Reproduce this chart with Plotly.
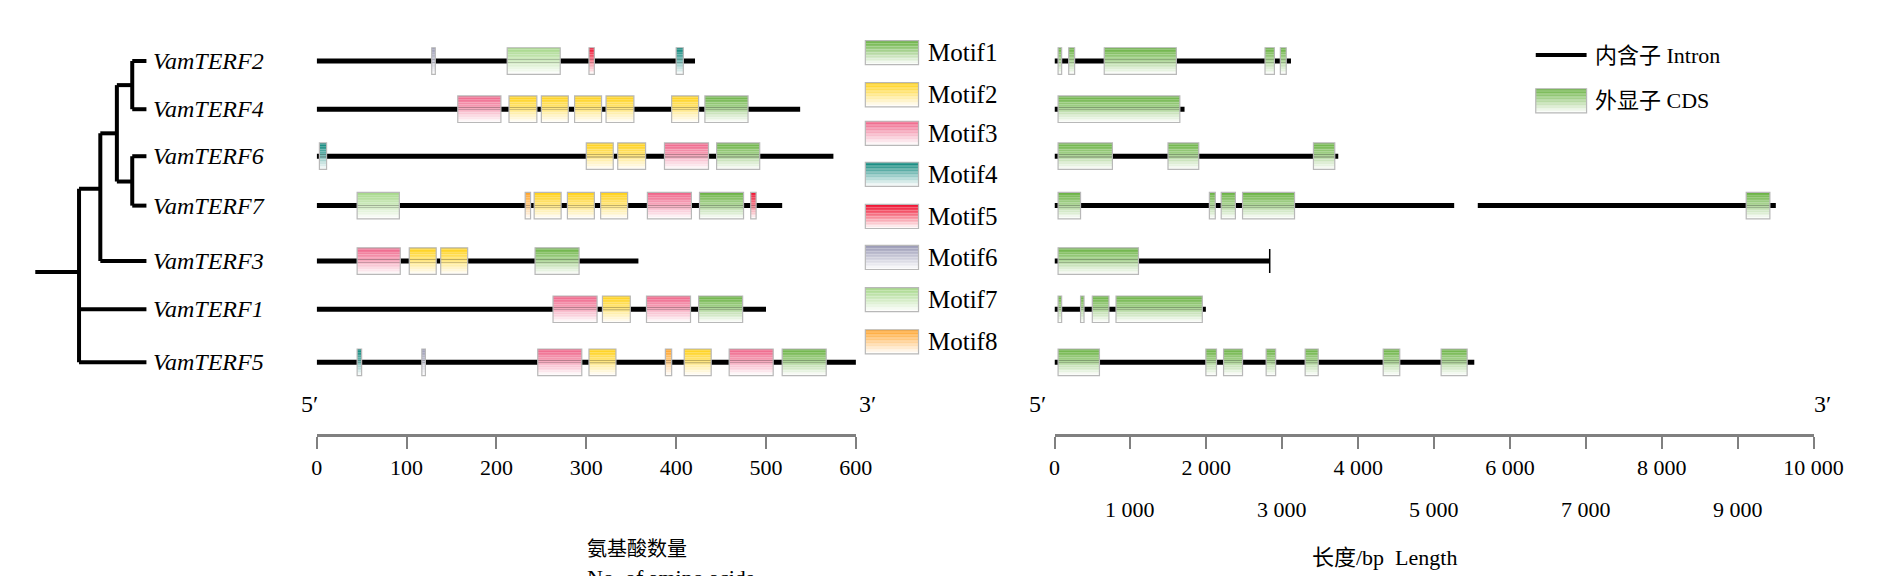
import plotly.graph_objects as go

# gene names, top to bottom
genes = ['VamTERF2', 'VamTERF4', 'VamTERF6', 'VamTERF7', 'VamTERF3', 'VamTERF1', 'VamTERF5']
row_y = [37, 77, 116, 157, 203, 243, 287]

# protein lengths (aa) and motifs (motif number, start, end)
prot_len = [421, 538, 575, 518, 358, 500, 603]
motifs = [
    [(6, 128, 132), (7, 212, 271), (5, 303, 309), (4, 400, 408)],
    [(3, 157, 205), (2, 214, 245), (2, 250, 280), (2, 287, 317), (2, 322, 353), (2, 395, 425), (1, 432, 480)],
    [(4, 3, 11), (2, 300, 330), (2, 335, 366), (3, 387, 436), (1, 445, 493)],
    [(7, 45, 92), (8, 232, 238), (2, 242, 272), (2, 279, 309), (2, 316, 346), (3, 368, 417), (1, 426, 475), (5, 483, 489)],
    [(3, 45, 93), (2, 103, 133), (2, 138, 168), (1, 243, 292)],
    [(3, 263, 312), (2, 318, 349), (3, 367, 416), (1, 425, 474)],
    [(4, 45, 50), (6, 117, 121), (3, 246, 295), (2, 303, 333), (8, 388, 395), (2, 409, 439), (3, 459, 508), (1, 518, 567)],
]

# gene lengths (bp) and exons
gene_len = [3115, 1713, 3738, 9502, 2835, 1994, 5530]
exons = [
    [(47, 94), (187, 265), (655, 1605), (2773, 2897), (2975, 3053)],
    [(47, 1651)],
    [(47, 763), (1495, 1900), (3411, 3692)],
    [(47, 343), (2040, 2118), (2196, 2383), (2477, 3162), (9112, 9424)],
    [(47, 1106)],
    [(47, 94), (343, 389), (498, 717), (810, 1947)],
    [(47, 592), (1994, 2134), (2227, 2477), (2788, 2913), (3302, 3474), (4330, 4548), (5093, 5436)],
]
intron_gap = (5265, 5576)  # broken intron of VamTERF7

motif_colors = {1: '#6cb446', 2: '#ffd21a', 3: '#f0668a', 4: '#0e877c',
                5: '#f01836', 6: '#9d9db8', 7: '#a8d98c', 8: '#ffa52c'}

aa_ticks = [0, 100, 200, 300, 400, 500, 600]
bp_ticks = [0, 2000, 4000, 6000, 8000, 10000]
bp_ticks_low = [1000, 3000, 5000, 7000, 9000]

W, H = 1568, 478  # layout units of the drawing
SHIFT = 7
font = 'Liberation Serif'


def px(x):
    return x / W


def mix(hexc, t):
    r, g, b = int(hexc[1:3], 16), int(hexc[3:5], 16), int(hexc[5:7], 16)
    r, g, b = [int(c + (255 - c) * t) for c in (r, g, b)]
    return f'rgb({r},{g},{b})'


shapes = []


def grad_box(x0, x1, y0, y1, color, xref, yref, n=16):
    for i in range(n):
        a = y0 + (y1 - y0) * i / n
        b = y0 + (y1 - y0) * (i + 1) / n
        shapes.append(dict(type='rect', xref=xref, yref=yref, x0=x0, x1=x1, y0=a, y1=b,
                           fillcolor=mix(color, i / (n - 1) * 0.97), line=dict(width=0), layer='above'))
    shapes.append(dict(type='rect', xref=xref, yref=yref, x0=x0, x1=x1, y0=y0, y1=y1,
                       line=dict(color='#b8b8b8', width=1.2), layer='above'))


def hline(x0, x1, y, xref, width=5):
    shapes.append(dict(type='line', xref=xref, yref='y', x0=x0, x1=x1, y0=y, y1=y,
                       line=dict(color='black', width=width), layer='above'))


fig = go.Figure()

for k, y in enumerate(row_y):
    hline(0, prot_len[k], y, 'x')
    for m, s, e in motifs[k]:
        grad_box(s, e, y - 11, y + 11, motif_colors[m], 'x', 'y')
    if k == 3:
        hline(0, intron_gap[0], y, 'x2')
        hline(intron_gap[1], gene_len[k], y, 'x2')
    else:
        hline(0, gene_len[k], y, 'x2')
    for s, e in exons[k]:
        grad_box(s, e, y - 11, y + 11, motif_colors[1], 'x2', 'y')
    if k == 4:
        shapes.append(dict(type='line', xref='x2', yref='y', x0=gene_len[k], x1=gene_len[k],
                           y0=y - 10, y1=y + 10, line=dict(color='black', width=1.5)))

# tree (paper x, y in layout units)
tree_segs = [
    (18, 55, 212, 212), (55, 55, 143, 287), (55, 112, 287, 287), (55, 112, 243, 243),
    (55, 73, 143, 143), (73, 73, 97, 203), (73, 112, 203, 203), (73, 87, 97, 97),
    (87, 87, 57, 137), (87, 100, 57, 57), (100, 100, 37, 77), (87, 100, 137, 137),
    (100, 100, 116, 157), (100, 112, 37, 37), (100, 112, 77, 77), (100, 112, 116, 116),
    (100, 112, 157, 157),
]
for x0, x1, y0, y1 in tree_segs:
    shapes.append(dict(type='line', xref='paper', yref='y', x0=px(x0), x1=px(x1), y0=y0, y1=y1,
                       line=dict(color='black', width=4)))

ann = []
for g, y in zip(genes, row_y):
    ann.append(dict(x=px(116), y=y, xref='paper', yref='y', text=f'<i>{g}</i>', showarrow=False,
                    xanchor='left', font=dict(family=font, size=24, color='black')))

# motif legend
leg_y = [30, 65, 97, 131, 166, 200, 235, 270]
for i, y in enumerate(leg_y):
    grad_box(px(720), px(765), y - 10, y + 10, motif_colors[i + 1], 'paper', 'y')
    ann.append(dict(x=px(771), y=y, xref='paper', yref='y', text=f'Motif{i + 1}', showarrow=False,
                    xanchor='left', font=dict(family=font, size=25, color='black')))

# gene legend
shapes.append(dict(type='line', xref='paper', yref='y', x0=px(1287), x1=px(1330), y0=32, y1=32,
                   line=dict(color='black', width=4)))
grad_box(px(1287), px(1330), 60, 80, motif_colors[1], 'paper', 'y')
ann.append(dict(x=px(1335), y=32, xref='paper', yref='y', text='内含子 Intron', showarrow=False,
                xanchor='left', font=dict(family='Liberation Serif, Noto Sans CJK SC', size=22, color='black')))
ann.append(dict(x=px(1335), y=70, xref='paper', yref='y', text='外显子 CDS', showarrow=False,
                xanchor='left', font=dict(family='Liberation Serif, Noto Sans CJK SC', size=22, color='black')))

for x, t in [(241, "5′"), (722, "3′"), (866, "5′"), (1538, "3′")]:
    ann.append(dict(x=px(x), y=322, xref='paper', yref='y', text=t, showarrow=False,
                    font=dict(family=font, size=24, color='black')))

for v in bp_ticks_low:
    ann.append(dict(x=v, y=409, xref='x2', yref='y', text=f'{v // 1000} 000', showarrow=False,
                    font=dict(family=font, size=22, color='black')))

ann.append(dict(x=px(483), y=441, xref='paper', yref='y', text='氨基酸数量', showarrow=False,
                font=dict(family='Noto Sans CJK SC', size=20, color='black')))
ann.append(dict(x=px(483), y=466, xref='paper', yref='y', text='No. of amino acids', showarrow=False,
                font=dict(family=font, size=22, color='black')))
ann.append(dict(x=px(1222), y=449, xref='paper', yref='y', text='长度/bp  Length', showarrow=False,
                font=dict(family='Liberation Serif, Noto Sans CJK SC', size=22, color='black')))

axis_pos = 1 - (347 + SHIFT) / H
common = dict(showgrid=False, zeroline=False, showline=True, linecolor='#808080', linewidth=3,
              ticks='outside', ticklen=12, tickwidth=2, tickcolor='#808080',
              tickfont=dict(family=font, size=22, color='black'), anchor='free', position=axis_pos,
              fixedrange=True)

fig.update_layout(
    width=1890, height=576, margin=dict(l=0, r=0, t=0, b=0),
    paper_bgcolor='white', plot_bgcolor='white', showlegend=False,
    xaxis=dict(domain=[px(256), px(712)], range=[0, 600], tickvals=aa_ticks,
               ticktext=[str(v) for v in aa_ticks], **common),
    xaxis2=dict(domain=[px(880), px(1522)], range=[0, 10000], tickvals=list(range(0, 10001, 1000)),
                ticktext=[(f'{v // 1000} 000' if v else '0') if v in bp_ticks else '' for v in range(0, 10001, 1000)],
                **common),
    yaxis=dict(domain=[0, 1], range=[H - SHIFT, -SHIFT], visible=False, fixedrange=True),
    shapes=shapes, annotations=ann,
)
fig.add_trace(go.Scatter(x=[None], y=[None], xaxis='x', yaxis='y'))
fig.add_trace(go.Scatter(x=[None], y=[None], xaxis='x2', yaxis='y'))
fig.write_html('out.html')
